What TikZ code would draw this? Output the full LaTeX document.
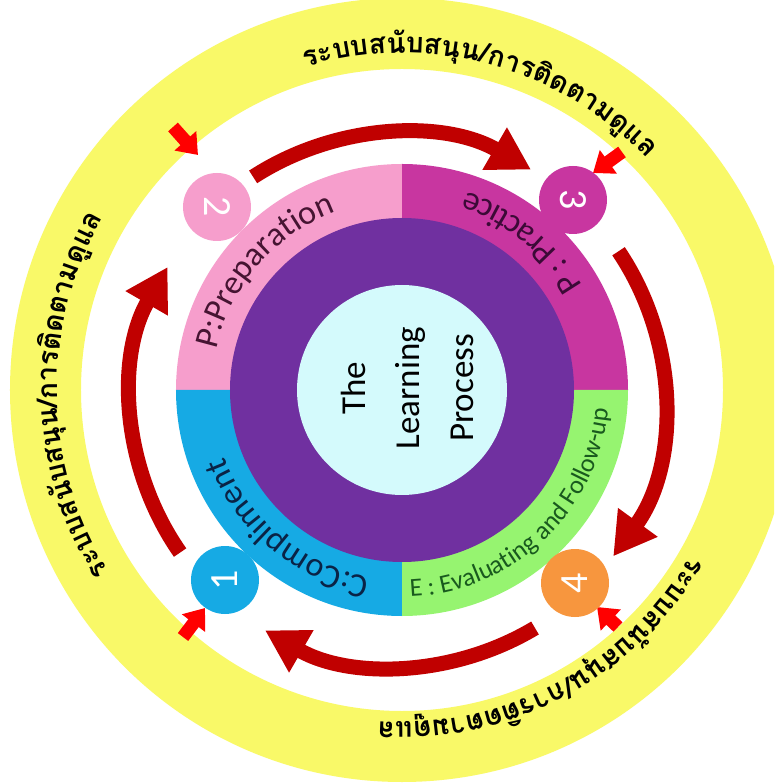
\documentclass[tikz,border=0pt]{standalone}
\usepackage{fontspec}
\setmainfont{Carlito}
\newfontfamily\thaifont[Script=Thai]{Loma}
\usetikzlibrary{arrows.meta,decorations.text}
\definecolor{ylw}{RGB}{249,249,104}
\definecolor{segpink}{RGB}{246,158,204}
\definecolor{segmag}{RGB}{200,54,160}
\definecolor{segblue}{RGB}{22,170,228}
\definecolor{seggreen}{RGB}{150,244,112}
\definecolor{ringpurple}{RGB}{112,48,160}
\definecolor{corecyan}{RGB}{212,250,252}
\definecolor{numorange}{RGB}{247,150,62}
\definecolor{darkred}{RGB}{192,0,0}
\definecolor{txtpink}{RGB}{70,20,50}
\definecolor{txtmag}{RGB}{60,10,55}
\definecolor{txtblue}{RGB}{10,35,70}
\definecolor{txtgreen}{RGB}{25,90,30}
\tikzset{
  numc/.style={circle, minimum size=68pt, inner sep=0pt, text=white, font=\fontsize{40}{40}\selectfont},
  bigarr/.style={draw=darkred, line width=15pt, -{Triangle[width=46pt,length=42pt]}},
  smallarr/.style={draw=red, line width=13pt, -{Triangle[width=28pt,length=19pt]}},
}
\begin{document}
\begin{tikzpicture}[x=1pt,y=1pt]
\clip (-402,-393) rectangle (372,390);
\coordinate (C) at (0,0);
\coordinate (CA) at (-4,-10);
\fill[white] (-402,-393) rectangle (372,390);
% yellow ring
\fill[ylw, even odd rule] (C) circle[radius=392pt] (C) circle[radius=321pt];
% segments
\fill[segpink] (C) -- (180:226pt) arc[start angle=180,end angle=90,radius=226pt] -- cycle;
\fill[segmag] (C) -- (90:226pt) arc[start angle=90,end angle=0,radius=226pt] -- cycle;
\fill[segblue] (C) -- (270:226pt) arc[start angle=270,end angle=180,radius=226pt] -- cycle;
\fill[seggreen] (C) -- (360:226pt) arc[start angle=360,end angle=270,radius=226pt] -- cycle;
\fill[ringpurple] (C) circle[radius=172pt];
\node[circle, fill=corecyan, minimum size=210pt, inner sep=0pt] (core) at (C) {};
\node[rotate=90, align=center, font=\fontsize{35}{54}\selectfont] (title) at (5,2) {The\\Learning\\Process};
% segment labels
\path[decorate, decoration={text along path, text align=center,
  text={|\fontsize{34}{34}\selectfont\color{txtpink}|P:Preparation}}]
  (184:190pt) arc[start angle=184, end angle=94, radius=190pt];
\path[decorate, decoration={text along path, text align=center,
  text={|\fontsize{34}{34}\selectfont\color{txtmag}|P : Practice}}]
  (6:208pt) arc[start angle=6, end angle=96, radius=208pt];
\path[decorate, decoration={text along path, text align=center,
  text={|\fontsize{34}{34}\selectfont\color{txtblue}|C:Compliment}}]
  (-84.5:190pt) arc[start angle=-84.5, end angle=-174.5, radius=190pt];
\path[decorate, decoration={text along path, text align=center,
  text={|\fontsize{26}{26}\selectfont\color{txtgreen}|E : Evaluating and Follow-up}}]
  (-110:207pt) arc[start angle=-110, end angle=17, radius=207pt];
% Thai labels
\path[decorate, decoration={text along path, text align=center,
  text={|\thaifont\bfseries\fontsize{28}{28}\selectfont|ระบบส{นั}บส{นุ}น/การ{ติ}ดตาม{ดู}แล}}]
  (125:337pt) arc[start angle=125, end angle=25, radius=337pt];
\path[decorate, decoration={text along path, text align=center,
  text={|\thaifont\bfseries\fontsize{28}{28}\selectfont|ระบบส{นั}บส{นุ}น/การ{ติ}ดตาม{ดู}แล}}]
  (231:345pt) arc[start angle=231, end angle=131, radius=345pt];
\path[decorate, decoration={text along path, text align=center,
  text={|\thaifont\bfseries\fontsize{28}{28}\selectfont|ระบบส{นั}บส{นุ}น/การ{ติ}ดตาม{ดู}แล}}]
  (-12:332pt) arc[start angle=-12, end angle=-112, radius=332pt];
% big arcs
\coordinate (a1s) at ([shift={(123:266pt)}]CA);
\coordinate (a2s) at ([shift={(34:266pt)}]CA);
\coordinate (a3s) at ([shift={(-59:266pt)}]CA);
\coordinate (a4s) at ([shift={(215:266pt)}]CA);
\draw[bigarr] (a1s) arc[start angle=123, end angle=60, radius=266pt];
\draw[bigarr] (a2s) arc[start angle=34, end angle=-36, radius=266pt];
\draw[bigarr] (a3s) arc[start angle=-59, end angle=-120, radius=266pt];
\draw[bigarr] (a4s) arc[start angle=215, end angle=150, radius=266pt];
% small arrows
\coordinate (s2a) at (-229,263); \coordinate (s2b) at (-204,235);
\coordinate (s3a) at (220,238);  \coordinate (s3b) at (191,217);
\coordinate (s1a) at (-219,-247); \coordinate (s1b) at (-197,-218);
\coordinate (s4a) at (216,-237); \coordinate (s4b) at (195,-217);
\draw[smallarr] (s2a) -- (s2b);
\draw[smallarr] (s3a) -- (s3b);
\draw[smallarr] (s1a) -- (s1b);
\draw[smallarr] (s4a) -- (s4b);
% numbers
\node[numc, fill=segpink, rotate=-90] (n2) at (-185,183) {2};
\node[numc, fill=segmag, rotate=-90] (n3) at (171,190) {3};
\node[numc, fill=segblue, rotate=90] (n1) at (-177,-190) {1};
\node[numc, fill=numorange, rotate=90] (n4) at (173,-193) {4};
\end{tikzpicture}
\end{document}
